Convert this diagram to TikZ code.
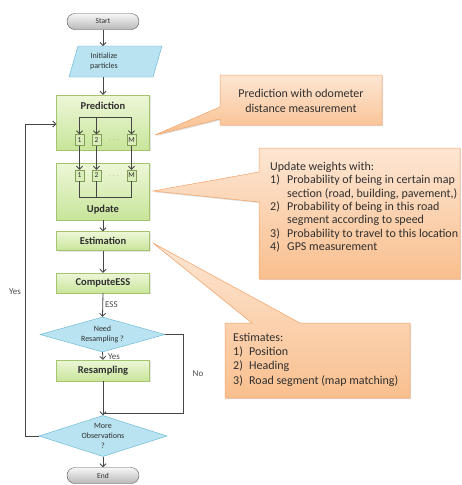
\documentclass[tikz,border=0pt]{standalone}
\usepackage{fontspec}
\setmainfont{Carlito}
\usetikzlibrary{shapes.geometric,arrows.meta,shadows}
\definecolor{grnT}{HTML}{EDF7D8}
\definecolor{grnB}{HTML}{C8E59A}
\definecolor{grnD}{HTML}{A4C46E}
\definecolor{bluF}{HTML}{B9E3F1}
\definecolor{bluD}{HTML}{5DB3CF}
\definecolor{orT}{HTML}{FDE6D3}
\definecolor{orB}{HTML}{F9BF8E}
\definecolor{orD}{HTML}{F4A265}
\definecolor{lineC}{HTML}{454545}
\definecolor{txtC}{HTML}{2F2F2F}
\begin{document}
\begin{tikzpicture}[x=1pt,y=-1pt,
  gbox/.style={draw=grnD, top color=grnT, bottom color=grnB, minimum width=93pt, inner sep=0pt,
    font=\bfseries\fontsize{10.5}{12}\selectfont, text=txtC,
    drop shadow={opacity=0.2, shadow xshift=1pt, shadow yshift=-1pt}},
  gtitle/.style={font=\bfseries\fontsize{10.5}{12}\selectfont, text=txtC, inner sep=0pt},
  sbox/.style={draw=grnD!80!black, fill=grnT!50!grnB, minimum width=9pt, minimum height=11pt, inner sep=0pt,
    font=\fontsize{7.5}{8}\selectfont, text=txtC},
  pill/.style={draw=black!65, top color=black!3, bottom color=black!28, rounded corners=8pt,
    minimum width=72pt, minimum height=16pt, inner sep=0pt, font=\fontsize{7.5}{9}\selectfont, text=txtC},
  dia/.style={diamond, draw=bluD, fill=bluF, inner sep=0pt, aspect=3.5,
    font=\fontsize{8}{9.6}\selectfont, align=center, text=txtC},
  para/.style={draw=bluD, fill=bluF},
  arr/.style={draw=lineC, line width=0.8pt, -{Straight Barb[length=3pt,width=6pt]}},
  ln/.style={draw=lineC, line width=0.8pt},
  callout/.style={draw=orD, line width=0.5pt, top color=orT, bottom color=orB,
    drop shadow={opacity=0.25, shadow xshift=1.2pt, shadow yshift=-1.2pt}},
  ctext/.style={font=\fontsize{12}{13.3}\selectfont, text=txtC, inner sep=0pt},
  lbl/.style={font=\fontsize{9}{10}\selectfont, text=black!70, inner sep=0pt},
  dots/.style={font=\fontsize{7}{8}\selectfont, text=black!50, inner sep=0pt}
]
\fill[white] (0,0) rectangle (462,485);
\useasboundingbox (0,0) rectangle (462,485);

% callouts
\path[callout] (220,75) -- (382,75) -- (382,125) -- (220,125) -- (220,119) -- (155,135) -- (220,107) -- cycle;
\node[ctext, font=\fontsize{12}{15.5}\selectfont, align=center] (c1t) at (301,101) {Prediction with odometer\\distance measurement};

\path[callout] (259,148) -- (460,148) -- (460,279) -- (259,279) -- (259,202) -- (153,191) -- (259,172) -- cycle;
\node[ctext, align=left, anchor=north west] (c2t) at (270,162) {Update weights with:\\
\makebox[17pt][l]{1)}Probability of being in certain map\\
\hspace*{17pt}section (road, building, pavement,)\\
\makebox[17pt][l]{2)}Probability of being in this road\\
\hspace*{17pt}segment according to speed\\
\makebox[17pt][l]{3)}Probability to travel to this location\\
\makebox[17pt][l]{4)}GPS measurement};

\path[callout] (225,323) -- (252,323) -- (153,243) -- (300,323) -- (410,323) -- (410,398) -- (225,398) -- cycle;
\node[ctext, font=\fontsize{12}{14.2}\selectfont, align=left, anchor=north west] (c3t) at (233,333) {Estimates:\\
\makebox[16pt][l]{1)}Position\\
\makebox[16pt][l]{2)}Heading\\
\makebox[16pt][l]{3)}Road segment (map matching)};

% flowchart
\node[pill] (start) at (103,21.5) {Start};
\path[para] (78,46) -- (162,46) -- (153,77) -- (69,77) -- cycle;
\node[font=\fontsize{8}{9.5}\selectfont, align=center, text=txtC, inner sep=0pt] (init) at (104,61.5) {Initialize\\particles};
\coordinate (initN) at (103,46);
\coordinate (initS) at (103,77);

\node[gbox, minimum height=55pt] (pred) at (103,122.5) {};
\node[gtitle] (predT) at (103,105.5) {Prediction};
\node[sbox] (p1) at (79.5,140) {1};
\node[sbox] (p2) at (96.5,140) {2};
\node[sbox] (pm) at (131.5,140) {M};
\node[dots] (pd) at (113.5,140) {$\cdots$};

\node[gbox, minimum height=57pt] (upd) at (103,191.5) {};
\node[gtitle] (updT) at (103,210) {Update};
\node[sbox] (u1) at (79.5,175.5) {1};
\node[sbox] (u2) at (96.5,175.5) {2};
\node[sbox] (um) at (131.5,175.5) {M};
\node[dots] (ud) at (113.5,175.5) {$\cdots$};

\node[gbox, minimum height=19pt] (est) at (103,241) {Estimation};
\node[gbox, minimum height=20pt] (comp) at (103,283) {ComputeESS};
\node[dia, minimum width=125pt, minimum height=35pt] (need) at (102.5,334.5) {Need\\Resampling ?};
\node[gbox, minimum height=21pt] (res) at (103,370.5) {Resampling};
\node[dia, minimum width=120pt, minimum height=41pt] (more) at (103,436) {More\\Observations\\?};
\node[pill] (stop) at (103,475.5) {End};

% inner connectors
\coordinate (pbar) at (0,117);
\draw[ln] (p1 |- pbar) -- (pm |- pbar);
\draw[arr] (p1 |- pbar) -- (p1.north);
\draw[arr] (p2 |- pbar) -- (p2.north);
\draw[arr] (pm |- pbar) -- (pm.north);
\draw[arr] (p1.south) -- (u1.north);
\draw[arr] (p2.south) -- (u2.north);
\draw[arr] (pm.south) -- (um.north);
\coordinate (ubar) at (0,197);
\draw[ln] (u1.south) -- (u1 |- ubar) -- (um |- ubar) -- (um.south);
\draw[ln] (u2.south) -- (u2 |- ubar);

% main connectors
\draw[arr] (start.south) -- (initN);
\draw[arr] (initS) -- (start |- pred.north);
\draw[arr] (upd.south) -- (est.north);
\draw[arr] (est.south) -- (comp.north);
\draw[arr] (comp.south) -- node[lbl, right=2pt, pos=0.5] (essl) {ESS} (need.north);
\draw[arr] (need.south) -- node[lbl, right=5pt, pos=0.55] (yesl) {Yes} (res.north);
\draw[arr] (res.south) -- (more.north);
\draw[arr] (more.south) -- (stop.north);
\coordinate (noc) at (183,413.5);
\draw[ln] (need.east) -| (noc) -- (noc -| more.north);
\node[lbl] (nol) at (198,374) {No};
\coordinate (yc) at (25,124);
\draw[arr] (more.west) -| (yc) -- (yc -| pred.west);
\node[lbl] (yesl2) at (15,292) {Yes};
\end{tikzpicture}
\end{document}
